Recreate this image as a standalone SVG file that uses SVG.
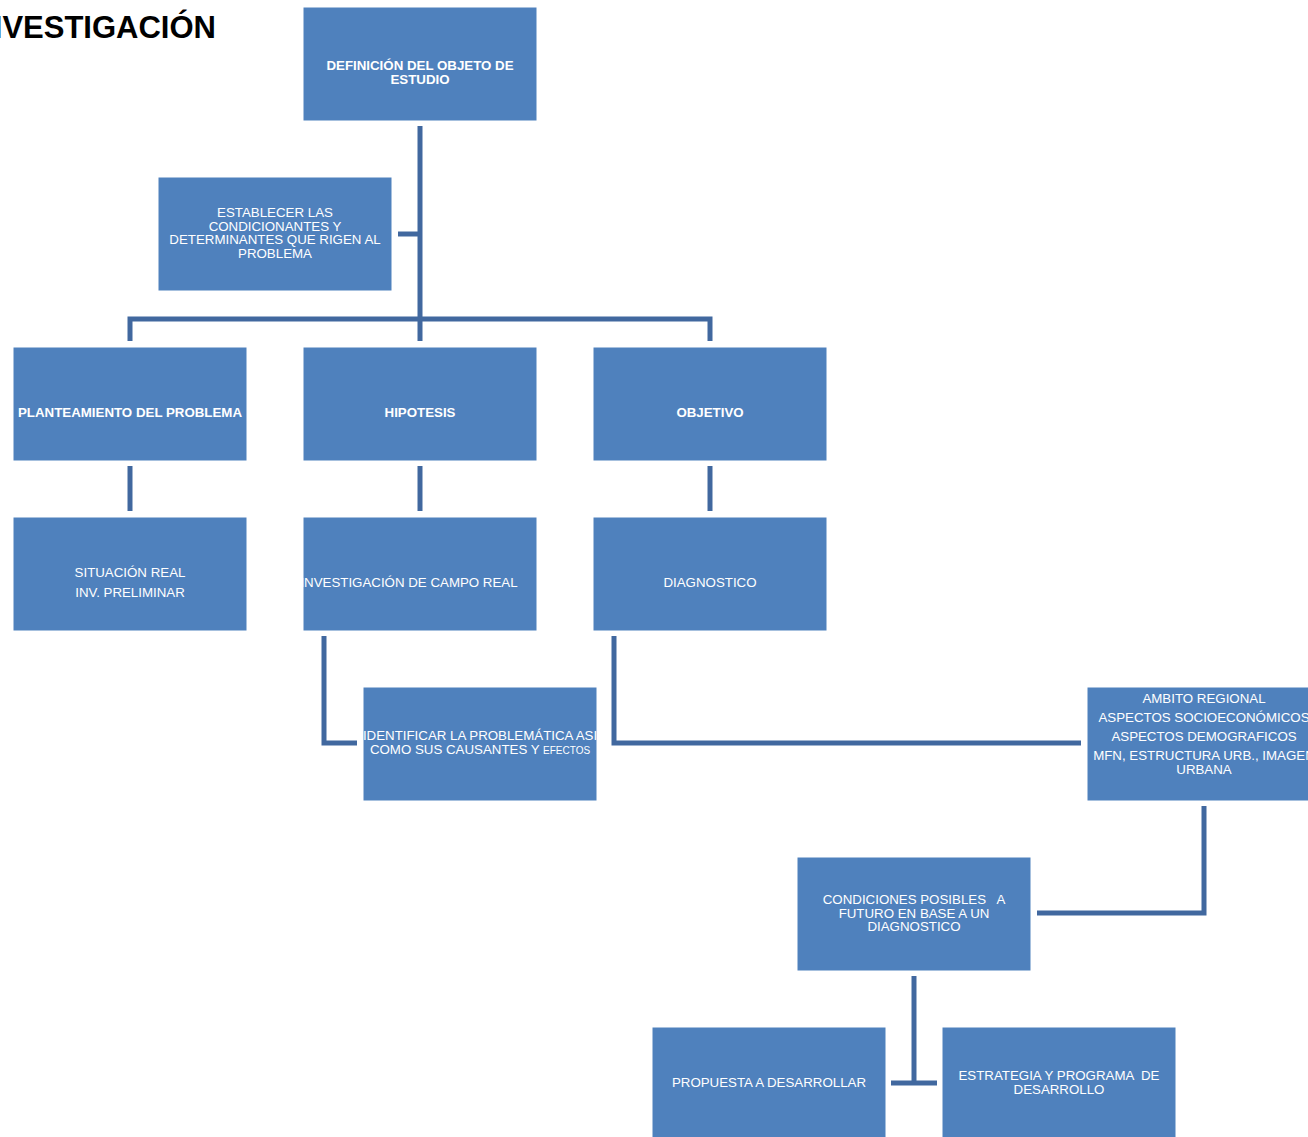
<svg xmlns="http://www.w3.org/2000/svg" width="1308" height="1137" viewBox="0 0 1308 1137">
<style>
.box{fill:#4f81bd;stroke:#ffffff;stroke-width:1}
.t{font-family:"Liberation Sans",Arial,sans-serif;font-size:13.3px;fill:#ffffff;text-anchor:middle;white-space:pre}
.b{font-weight:bold}
.c{fill:none;stroke:#41689f;stroke-width:5}
.title{font-family:"Liberation Sans",Arial,sans-serif;font-weight:bold;font-size:31px;fill:#000000;text-anchor:end}
</style>
<rect width="1308" height="1137" fill="#ffffff"/>
<text class="title" x="216" y="38">INVESTIGACIÓN</text>
<g id="connectors">
<path class="c" d="M420 126V341"/>
<path class="c" d="M398 234H420"/>
<path class="c" d="M130 341V319H710V341"/>
<path class="c" d="M130 466V511"/>
<path class="c" d="M420 466V511"/>
<path class="c" d="M710 466V511"/>
<path class="c" d="M324 636V743H357"/>
<path class="c" d="M614 636V743H1081"/>
<path class="c" d="M1204 806V913H1037"/>
<path class="c" d="M914 976V1083"/>
<path class="c" d="M891 1083H937"/>
</g>
<g id="n-definicion"><rect class="box" x="303" y="7" width="234" height="114"/>
<text class="t b" x="420" y="70">DEFINICIÓN DEL OBJETO DE</text><text class="t b" x="420" y="84">ESTUDIO</text></g>
<g id="n-establecer"><rect class="box" x="158" y="177" width="234" height="114"/>
<text class="t" x="275" y="217">ESTABLECER LAS</text><text class="t" x="275" y="231">CONDICIONANTES Y</text><text class="t" x="275" y="244">DETERMINANTES QUE RIGEN AL</text><text class="t" x="275" y="258">PROBLEMA</text></g>
<g id="n-planteamiento"><rect class="box" x="13" y="347" width="234" height="114"/>
<text class="t b" x="130" y="417">PLANTEAMIENTO DEL PROBLEMA</text></g>
<g id="n-hipotesis"><rect class="box" x="303" y="347" width="234" height="114"/>
<text class="t b" x="420" y="417">HIPOTESIS</text></g>
<g id="n-objetivo"><rect class="box" x="593" y="347" width="234" height="114"/>
<text class="t b" x="710" y="417">OBJETIVO</text></g>
<g id="n-situacion"><rect class="box" x="13" y="517" width="234" height="114"/>
<text class="t" x="130" y="577">SITUACIÓN REAL</text><text class="t" x="130" y="597">INV. PRELIMINAR</text></g>
<g id="n-investigacion"><rect class="box" x="303" y="517" width="234" height="114"/>
<text class="t" x="409" y="587">INVESTIGACIÓN DE CAMPO REAL</text></g>
<g id="n-diagnostico"><rect class="box" x="593" y="517" width="234" height="114"/>
<text class="t" x="710" y="587">DIAGNOSTICO</text></g>
<g id="n-identificar"><rect class="box" x="363" y="687" width="234" height="114"/>
<text class="t" x="480" y="740">IDENTIFICAR LA PROBLEMÁTICA ASI</text><text class="t" x="480" y="754">COMO SUS CAUSANTES Y <tspan font-size="10">EFECTOS</tspan></text></g>
<g id="n-ambito"><rect class="box" x="1087" y="687" width="234" height="114"/>
<text class="t" x="1204" y="703">AMBITO REGIONAL</text><text class="t" x="1204" y="722">ASPECTOS SOCIOECONÓMICOS</text><text class="t" x="1204" y="741">ASPECTOS DEMOGRAFICOS</text><text class="t" x="1204" y="760">MFN, ESTRUCTURA URB., IMAGEN</text><text class="t" x="1204" y="774">URBANA</text></g>
<g id="n-condiciones"><rect class="box" x="797" y="857" width="234" height="114"/>
<text class="t" x="914" y="904">CONDICIONES POSIBLES   A</text><text class="t" x="914" y="918">FUTURO EN BASE A UN</text><text class="t" x="914" y="931">DIAGNOSTICO</text></g>
<g id="n-propuesta"><rect class="box" x="652" y="1027" width="234" height="114"/>
<text class="t" x="769" y="1087">PROPUESTA A DESARROLLAR</text></g>
<g id="n-estrategia"><rect class="box" x="942" y="1027" width="234" height="114"/>
<text class="t" x="1059" y="1080">ESTRATEGIA Y PROGRAMA  DE</text><text class="t" x="1059" y="1094">DESARROLLO</text></g>
</svg>
